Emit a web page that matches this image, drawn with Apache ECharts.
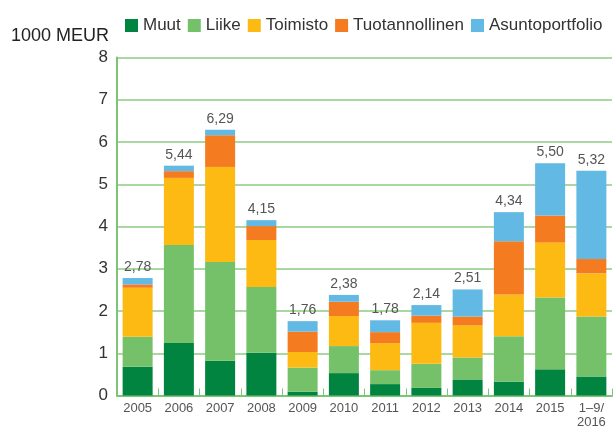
<!DOCTYPE html>
<html>
<head>
<meta charset="utf-8">
<script src="https://cdn.jsdelivr.net/npm/echarts@6/dist/echarts.min.js"></script>
<style>
  html, body { margin: 0; padding: 0; background: #fff; }
  #chart { width: 616px; height: 430px; }
</style>
</head>
<body>
<div id="chart"></div>
<script>
const categories = ['2005', '2006', '2007', '2008', '2009', '2010', '2011', '2012', '2013', '2014', '2015', '1–9/\n2016'];
const muut = [0.68, 1.24, 0.82, 1.01, 0.09, 0.53, 0.27, 0.18, 0.38, 0.33, 0.62, 0.45];
const liike = [0.71, 2.32, 2.34, 1.56, 0.57, 0.64, 0.33, 0.57, 0.52, 1.07, 1.70, 1.42];
const toimisto = [1.16, 1.59, 2.25, 1.11, 0.37, 0.71, 0.64, 0.97, 0.76, 0.99, 1.30, 1.02];
const tuotannollinen = [0.08, 0.16, 0.75, 0.33, 0.48, 0.34, 0.26, 0.17, 0.21, 1.26, 0.64, 0.34];
const asunto = [0.15, 0.13, 0.13, 0.14, 0.25, 0.16, 0.28, 0.25, 0.64, 0.69, 1.24, 2.09];
const totals = ['2,78', '5,44', '6,29', '4,15', '1,76', '2,38', '1,78', '2,14', '2,51', '4,34', '5,50', '5,32'];
const yTicks = [0, 1, 2, 3, 4, 5, 6, 7, 8];

const chart = echarts.init(document.getElementById('chart'))
const font = 'Liberation Sans'

function makeSeries(name, data, color) {
  return {
    name: name,
    type: 'bar',
    stack: 'total',
    barWidth: 30,
    itemStyle: { color: color },
    data: data,
  }
}

const series = [
  makeSeries('Muut', muut, '#00843f'),
  makeSeries('Liike', liike, '#75c16a'),
  makeSeries('Toimisto', toimisto, '#fdba12'),
  makeSeries('Tuotannollinen', tuotannollinen, '#f47b20'),
  makeSeries('Asuntoportfolio', asunto, '#62b9e3'),
]
// total on top of the last stacked segment
series[4].label = {
  show: true,
  position: 'top',
  distance: 4,
  color: '#555',
  fontFamily: font,
  fontSize: 14,
  formatter: (p) => totals[p.dataIndex],
}

chart.setOption({
  animation: false,
  textStyle: { fontFamily: font },
  legend: {
    left: 120,
    top: 12,
    itemWidth: 13,
    itemHeight: 13,
    itemGap: 7,
    icon: 'rect',
    textStyle: { color: '#333', fontSize: 17, fontFamily: font },
    data: series.map(s => s.name),
  },
  graphic: [{
    type: 'text',
    left: 11,
    top: 27,
    style: { text: '1000 MEUR', fill: '#222', font: '18px "Liberation Sans"' },
  }],
  grid: { left: 117, right: 4, top: 57.5, bottom: 34.5 },
  xAxis: {
    type: 'category',
    data: categories,
    axisLine: { lineStyle: { color: '#7cc576', width: 2 } },
    axisTick: { show: true, inside: true, length: 7, lineStyle: { color: '#7cc576' } },
    axisLabel: { color: '#555', fontSize: 13, fontFamily: font, margin: 6, lineHeight: 14 },
  },
  yAxis: {
    type: 'value',
    min: yTicks[0],
    max: yTicks[yTicks.length - 1],
    interval: 1,
    axisLine: { show: true, lineStyle: { color: '#7cc576', width: 2 } },
    axisTick: { show: false },
    splitLine: { lineStyle: { color: '#a9d9a1', width: 2 } },
    axisLabel: { color: '#333', fontSize: 17, fontFamily: font, margin: 9 },
  },
  series: series,
})
</script>
</body>
</html>
